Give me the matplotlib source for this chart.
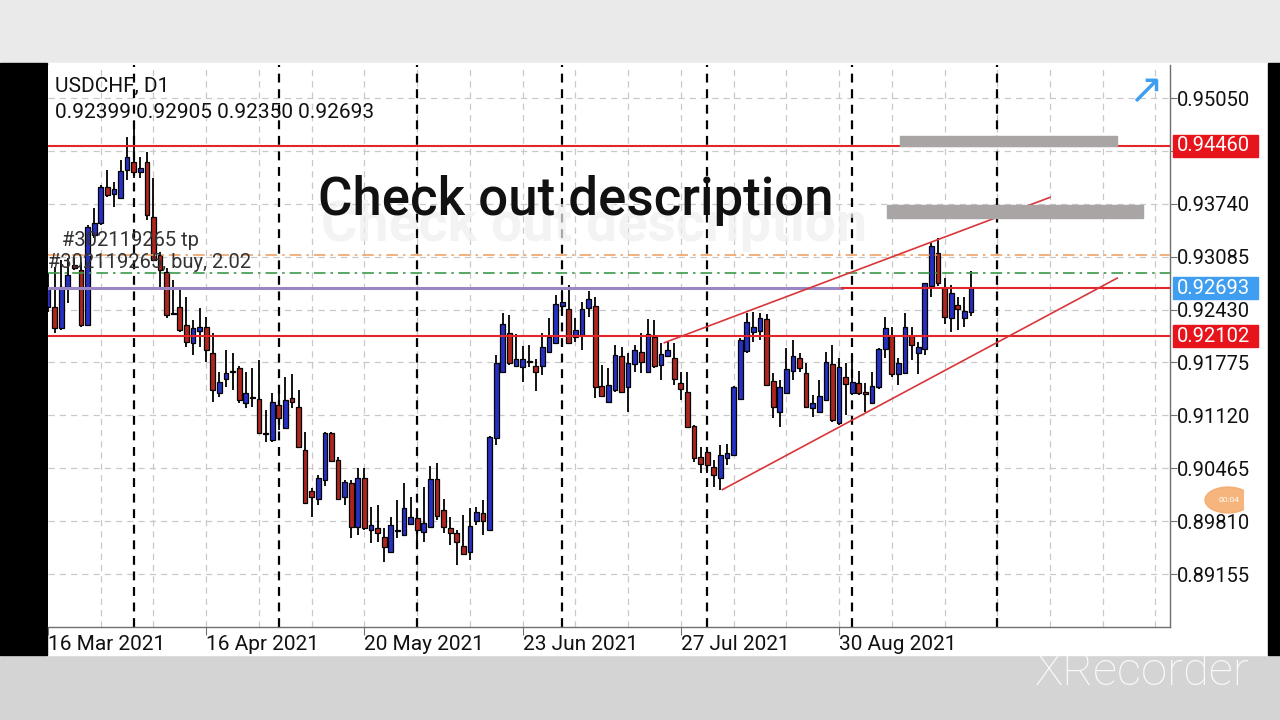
import matplotlib
matplotlib.use("Agg")
import matplotlib.pyplot as plt
import matplotlib.transforms as mtransforms
from matplotlib.patches import Rectangle, Circle

plt.rcParams['font.family'] = ['Roboto', 'DejaVu Sans']

# Daily USDCHF candles (one per trading day from mid March)
opens = [
    0.9246, 0.9246, 0.9220, 0.9271, 0.9298, 0.9292, 0.9224, 0.9335, 0.9350, 0.9395,
    0.9386, 0.9381, 0.9416, 0.9426, 0.9413, 0.9426, 0.9358, 0.9311, 0.9290, 0.9239,
    0.9246, 0.9224, 0.9202, 0.9216, 0.9221, 0.9189, 0.9140, 0.9157, 0.9166, 0.9171,
    0.9127, 0.9134, 0.9132, 0.9090, 0.9082, 0.9125, 0.9096, 0.9134, 0.9122, 0.9069,
    0.9018, 0.9008, 0.9032, 0.9090, 0.9057, 0.9011, 0.9028, 0.8974, 0.9034, 0.8970,
    0.8972, 0.8961, 0.8943, 0.8969, 0.8964, 0.8977, 0.8985, 0.8968, 0.8974, 0.9033,
    0.8995, 0.8972, 0.8966, 0.8950, 0.8943, 0.8981, 0.8991, 0.8970, 0.9084, 0.9166,
    0.9214, 0.9173, 0.9172, 0.9178, 0.9173, 0.9173, 0.9190, 0.9202, 0.9247, 0.9244,
    0.9209, 0.9212, 0.9245, 0.9247, 0.9148, 0.9129, 0.9143, 0.9186, 0.9147, 0.9176,
    0.9190, 0.9166, 0.9209, 0.9174, 0.9186, 0.9183, 0.9152, 0.9141, 0.9099, 0.9060,
    0.9067, 0.9048, 0.9034, 0.9059, 0.9063, 0.9132, 0.9192, 0.9215, 0.9216, 0.9231,
    0.9155, 0.9116, 0.9140, 0.9167, 0.9183, 0.9165, 0.9121, 0.9116, 0.9131, 0.9176,
    0.9103, 0.9160, 0.9140, 0.9152, 0.9141, 0.9127, 0.9147, 0.9194, 0.9210, 0.9163,
    0.9164, 0.9210, 0.9189, 0.9194, 0.9272, 0.9313, 0.9270, 0.9233, 0.9249, 0.9233,
    0.92399,
]
highs = [
    0.9288, 0.9296, 0.9304, 0.9307, 0.9307, 0.9302, 0.9348, 0.9369, 0.9397, 0.9416,
    0.9401, 0.9428, 0.9457, 0.9472, 0.9432, 0.9438, 0.9406, 0.9314, 0.9295, 0.9280,
    0.9267, 0.9259, 0.9230, 0.9245, 0.9234, 0.9214, 0.9166, 0.9193, 0.9189, 0.9173,
    0.9166, 0.9171, 0.9181, 0.9119, 0.9140, 0.9146, 0.9160, 0.9163, 0.9143, 0.9091,
    0.9022, 0.9038, 0.9091, 0.9091, 0.9060, 0.9032, 0.9032, 0.9047, 0.9047, 0.8999,
    0.9001, 0.8972, 0.8986, 0.9007, 0.9028, 0.9011, 0.8997, 0.9023, 0.9049, 0.9053,
    0.9008, 0.8986, 0.8970, 0.8989, 0.8997, 0.8999, 0.9007, 0.9086, 0.9187, 0.9239,
    0.9236, 0.9213, 0.9198, 0.9199, 0.9182, 0.9214, 0.9233, 0.9261, 0.9270, 0.9273,
    0.9233, 0.9252, 0.9266, 0.9259, 0.9174, 0.9171, 0.9199, 0.9197, 0.9189, 0.9199,
    0.9214, 0.9231, 0.9230, 0.9202, 0.9203, 0.9202, 0.9166, 0.9166, 0.9100, 0.9073,
    0.9072, 0.9057, 0.9075, 0.9077, 0.9148, 0.9208, 0.9239, 0.9240, 0.9239, 0.9238,
    0.9164, 0.9156, 0.9195, 0.9205, 0.9189, 0.9177, 0.9137, 0.9156, 0.9190, 0.9199,
    0.9183, 0.9177, 0.9189, 0.9167, 0.9152, 0.9166, 0.9195, 0.9234, 0.9221, 0.9183,
    0.9239, 0.9221, 0.9203, 0.9276, 0.9326, 0.9332, 0.9282, 0.9273, 0.9259, 0.9259,
    0.92905,
]
lows = [
    0.9240, 0.9214, 0.9218, 0.9251, 0.9292, 0.9221, 0.9223, 0.9332, 0.9348, 0.9382,
    0.9370, 0.9381, 0.9404, 0.9406, 0.9406, 0.9354, 0.9303, 0.9270, 0.9233, 0.9236,
    0.9215, 0.9197, 0.9187, 0.9197, 0.9178, 0.9129, 0.9135, 0.9147, 0.9143, 0.9127,
    0.9121, 0.9122, 0.9090, 0.9079, 0.9079, 0.9094, 0.9096, 0.9121, 0.9072, 0.9003,
    0.8986, 0.9001, 0.9025, 0.9054, 0.9008, 0.9001, 0.8960, 0.8964, 0.8970, 0.8954,
    0.8955, 0.8930, 0.8942, 0.8960, 0.8964, 0.8976, 0.8949, 0.8955, 0.8974, 0.8982,
    0.8966, 0.8951, 0.8927, 0.8940, 0.8933, 0.8976, 0.8964, 0.8969, 0.9075, 0.9166,
    0.9174, 0.9172, 0.9153, 0.9172, 0.9142, 0.9162, 0.9189, 0.9202, 0.9236, 0.9200,
    0.9203, 0.9193, 0.9234, 0.9134, 0.9135, 0.9129, 0.9141, 0.9140, 0.9116, 0.9166,
    0.9164, 0.9166, 0.9171, 0.9156, 0.9184, 0.9150, 0.9131, 0.9098, 0.9054, 0.9041,
    0.9041, 0.9023, 0.9020, 0.9050, 0.9062, 0.9131, 0.9189, 0.9203, 0.9205, 0.9150,
    0.9109, 0.9098, 0.9138, 0.9156, 0.9166, 0.9121, 0.9110, 0.9116, 0.9131, 0.9104,
    0.9100, 0.9112, 0.9137, 0.9137, 0.9116, 0.9127, 0.9145, 0.9183, 0.9160, 0.9150,
    0.9163, 0.9181, 0.9163, 0.9187, 0.9259, 0.9272, 0.9225, 0.9215, 0.9218, 0.9221,
    0.92350,
]
closes = [
    0.9270, 0.9220, 0.9271, 0.9286, 0.9295, 0.9224, 0.9345, 0.9350, 0.9395, 0.9385,
    0.9392, 0.9415, 0.9432, 0.9413, 0.9418, 0.9360, 0.9304, 0.9292, 0.9236, 0.9238,
    0.9218, 0.9203, 0.9220, 0.9221, 0.9193, 0.9143, 0.9153, 0.9165, 0.9167, 0.9131,
    0.9140, 0.9135, 0.9090, 0.9089, 0.9129, 0.9109, 0.9131, 0.9129, 0.9073, 0.9004,
    0.9011, 0.9034, 0.9090, 0.9055, 0.9008, 0.9030, 0.8974, 0.9034, 0.8972, 0.8976,
    0.8966, 0.8949, 0.8976, 0.8970, 0.8997, 0.8986, 0.8970, 0.8979, 0.9033, 0.8987,
    0.8974, 0.8966, 0.8955, 0.8940, 0.8975, 0.8992, 0.8981, 0.9085, 0.9177, 0.9225,
    0.9177, 0.9182, 0.9182, 0.9179, 0.9166, 0.9197, 0.9209, 0.9250, 0.9252, 0.9202,
    0.9218, 0.9244, 0.9256, 0.9147, 0.9136, 0.9150, 0.9187, 0.9141, 0.9177, 0.9193,
    0.9178, 0.9213, 0.9173, 0.9188, 0.9193, 0.9157, 0.9145, 0.9098, 0.9059, 0.9052,
    0.9050, 0.9038, 0.9063, 0.9065, 0.9147, 0.9205, 0.9228, 0.9221, 0.9233, 0.9150,
    0.9122, 0.9147, 0.9169, 0.9186, 0.9171, 0.9122, 0.9127, 0.9136, 0.9178, 0.9106,
    0.9172, 0.9151, 0.9153, 0.9140, 0.9138, 0.9148, 0.9194, 0.9220, 0.9163, 0.9177,
    0.9221, 0.9199, 0.9197, 0.9276, 0.9322, 0.9276, 0.9234, 0.9264, 0.9244, 0.9241,
    0.92693,
]

date_labels = ["16 Mar 2021", "16 Apr 2021", "20 May 2021", "23 Jun 2021", "27 Jul 2021", "30 Aug 2021"]
date_label_bars = [0, 24, 48, 72, 96, 120]
month_start_bars = [13, 35, 56, 78, 100, 122, 144]
price_ticks = [0.89155, 0.89810, 0.90465, 0.91120, 0.91775, 0.92430, 0.93085, 0.93740, 0.94395, 0.95050]

resistance = 0.94460
support = 0.92102
bid = 0.92693
tp_level = 0.93106
buy_level = 0.92883

# wedge lines (bar index, price)
upper_x, upper_y = [93.5, 152.0], [0.9202, 0.9382]
lower_x, lower_y = [102.3, 162.2], [0.9020, 0.9282]
# grey boxes on the right: (x0, x1, y0, y1)
zones = [(129.3, 162.2, 0.9446, 0.9458), (127.2, 166.1, 0.9356, 0.9372)]


def fx(px):
    return px / 1280


def fy(py):
    return 1 - py / 720


fig = plt.figure(figsize=(12.8, 7.2), dpi=100, facecolor="#eaeaea")

# screen frame around the chart
fig.add_artist(Rectangle((0, 0), 1, fy(655), transform=fig.transFigure, color="#d4d4d4", zorder=0))
fig.add_artist(Rectangle((0, fy(655)), 1, fy(63) - fy(655), transform=fig.transFigure, color="white", zorder=0))
fig.add_artist(Rectangle((0, fy(655)), fx(47), fy(63) - fy(655), transform=fig.transFigure, color="black", zorder=0))
fig.add_artist(Rectangle((fx(1268), fy(655)), fx(12), fy(63) - fy(655), transform=fig.transFigure, color="black", zorder=0))

ax = fig.add_axes([fx(48), fy(627), fx(1170 - 48), fy(65) - fy(627)])
ax.set_facecolor("white")
ax.set_xlim(0.1, 170.2)
ax.set_ylim(0.88499, 0.95459)

# grid
for p in price_ticks:
    ax.axhline(p, color="#c9c9c9", lw=0.9, dashes=(5, 4), zorder=1)
for b in range(8, 171, 8):
    ax.axvline(b, color="#c9c9c9", lw=0.9, dashes=(5, 4), zorder=1)
for b in month_start_bars:
    ax.axvline(b, color="black", lw=1.6, dashes=(4, 3), zorder=1)

# candles
idx = list(range(len(opens)))
colors = ["#2631c4" if c >= o else "#b0261f" for o, c in zip(opens, closes)]
ax.vlines(idx, lows, highs, color="black", lw=1.3, zorder=3)
bottoms = [min(o, c) for o, c in zip(opens, closes)]
heights = [max(abs(c - o), 0.00004) for o, c in zip(opens, closes)]
ax.bar(idx, heights, bottom=bottoms, width=0.72, color=colors, edgecolor="black", linewidth=0.9, zorder=4)

# levels
ax.axhline(resistance, color="#e3262a", lw=1.5, zorder=5)
ax.axhline(support, color="#e3262a", lw=1.5, zorder=5)
ax.plot([0.1, 120.5], [bid, bid], color="#9a86c4", lw=2.2, zorder=5)
ax.plot([120.5, 170.2], [bid, bid], color="#e3262a", lw=1.5, zorder=5)
ax.axhline(tp_level, color="#f0a46a", lw=1.2, ls=(0, (7, 3, 1.5, 3)), zorder=5)
ax.axhline(buy_level, color="#3d9a4a", lw=1.2, ls=(0, (7, 3, 1.5, 3)), zorder=5)

ax.plot(upper_x, upper_y, color="#d9363a", lw=1.2, zorder=6)
ax.plot(lower_x, lower_y, color="#d9363a", lw=1.2, zorder=6)
for x0, x1, y0, y1 in zones:
    ax.add_patch(Rectangle((x0, y0), x1 - x0, y1 - y0, color="#a9a5a5", zorder=6))

# axes look
for s in ["top", "left"]:
    ax.spines[s].set_visible(False)
for s in ["right", "bottom"]:
    ax.spines[s].set_color("#707070")
    ax.spines[s].set_linewidth(1.0)

# the 0.94395 label sits under the red resistance tag in the app
tag_levels = [resistance, bid, support]
ax.yaxis.tick_right()
ax.set_yticks(price_ticks)
ax.set_yticklabels(["" if abs(p - resistance) < 0.001 else f"{p:.5f}" for p in price_ticks])
ax.tick_params(axis="y", length=5, color="#707070", labelsize=14.5, pad=0, labelcolor="#111111")
ax.set_xticks(date_label_bars)
ax.set_xticklabels(date_labels, ha="left")
ax.tick_params(axis="x", length=6, color="#707070", labelsize=15, pad=0, labelcolor="#111111")

# highlighted price tags on the scale
tag_tr = mtransforms.blended_transform_factory(ax.transAxes, ax.transData)
tag_h = 22 * (0.95459 - 0.88499) / 562
for level, col in zip(tag_levels, ["#e8141c", "#3f9ef0", "#e8141c"]):
    ax.add_patch(Rectangle((1.0027, level - tag_h / 2), 85 / 1122, tag_h, transform=tag_tr,
                           color=col, clip_on=False, zorder=7))
    ax.text(1.0062, level, f"{level:.5f}", transform=tag_tr, color="white", fontsize=14.5,
            va="center", ha="left", zorder=8, clip_on=False)

# header and order labels
fig.text(fx(55), fy(86), "USDCHF, D1", fontsize=15, color="#111111", va="center")
fig.text(fx(55), fy(112), f"{opens[-1]:.5f} {highs[-1]:.5f} {lows[-1]:.5f} {closes[-1]:.5f}",
         fontsize=15, color="#111111", va="center")
fig.text(fx(62), fy(241), "#302119265 tp", fontsize=14.5, color="#333333", va="center")
fig.text(fx(48), fy(262), "#302119265, buy, 2.02", fontsize=14.5, color="#333333", va="center")

# video overlay bits
fig.text(fx(594), fy(226), "Check out description", fontsize=40, color="#efefef", alpha=0.7,
         ha="center", va="center", fontweight="bold", zorder=9)
fig.text(fx(576), fy(200), "Check out description", fontsize=38, color="#111111",
         ha="center", va="center", fontweight="medium", zorder=10)
fig.text(fx(1146), fy(91), "\u2197", fontsize=30, color="#3f9ef0", ha="center", va="center",
         family="DejaVu Sans", zorder=10)
clip = Rectangle((fx(1190), fy(540)), fx(54), fy(470) - fy(540), transform=fig.transFigure)
blob = Circle((fx(1228), fy(500)), fx(23), transform=fig.transFigure, color="#f4a866", alpha=0.85, zorder=10)
fig.add_artist(blob)
blob.set_clip_path(clip)
fig.text(fx(1229), fy(500), "00:04", fontsize=6, color="white", ha="center", va="center", zorder=11)
fig.text(fx(1142), fy(672), "XRecorder", fontsize=34, color="white", alpha=0.9,
         ha="center", va="center", fontweight="light", zorder=11)

fig.savefig("out.png", dpi=100, facecolor=fig.get_facecolor())
